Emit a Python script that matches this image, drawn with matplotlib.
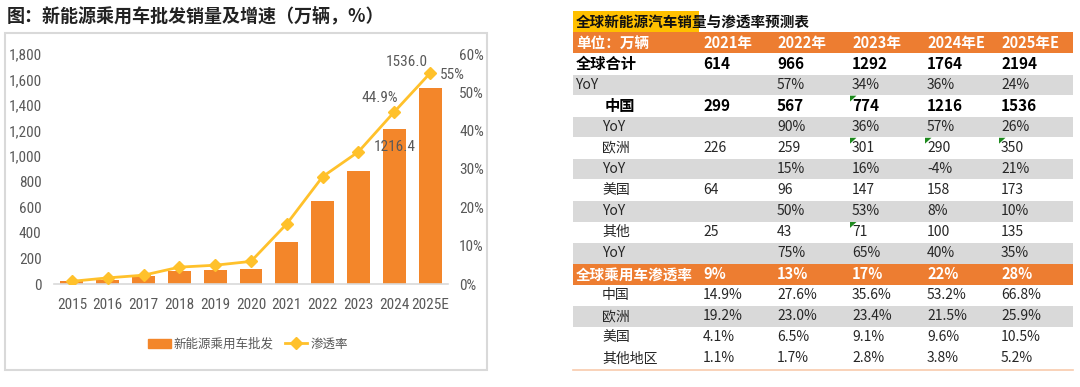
import matplotlib
matplotlib.use("Agg")
import matplotlib.pyplot as plt
import matplotlib.patches as mpatches
from matplotlib.lines import Line2D
from matplotlib.ticker import FuncFormatter

CJK = ["Noto Sans CJK SC", "DejaVu Sans"]
NARROW = ["Roboto Condensed", "Noto Sans CJK SC", "DejaVu Sans"]
plt.rcParams["font.family"] = CJK

# ---- left chart data ----
years = ["2015", "2016", "2017", "2018", "2019", "2020", "2021", "2022", "2023", "2024", "2025E"]
nev_wholesale = [21, 34, 60, 99, 106, 117, 327, 649, 883, 1216.4, 1536.0]
penetration = [0.7, 1.6, 2.3, 4.4, 4.9, 5.9, 15.7, 28.0, 34.5, 44.9, 55.0]

# ---- right table data ----
tbl_years = ["2021年", "2022年", "2023年", "2024年E", "2025年E"]
global_total = ["614", "966", "1292", "1764", "2194"]
global_yoy = ["", "57%", "34%", "36%", "24%"]
china_sales = ["299", "567", "774", "1216", "1536"]
china_yoy = ["", "90%", "36%", "57%", "26%"]
europe_sales = ["226", "259", "301", "290", "350"]
europe_yoy = ["", "15%", "16%", "-4%", "21%"]
us_sales = ["64", "96", "147", "158", "173"]
us_yoy = ["", "50%", "53%", "8%", "10%"]
other_sales = ["25", "43", "71", "100", "135"]
other_yoy = ["", "75%", "65%", "40%", "35%"]
pen_global = ["9%", "13%", "17%", "22%", "28%"]
pen_china = ["14.9%", "27.6%", "35.6%", "53.2%", "66.8%"]
pen_europe = ["19.2%", "23.0%", "23.4%", "21.5%", "25.9%"]
pen_us = ["4.1%", "6.5%", "9.1%", "9.6%", "10.5%"]
pen_other = ["1.1%", "1.7%", "2.8%", "3.8%", "5.2%"]

BAR_C = "#F3862A"
LINE_C = "#FFC12B"
ORANGE = "#ED7D31"
GRAY_ROW = "#D9D9D9"
TXT = "#595959"

W, H = 1080, 387
fig = plt.figure(figsize=(W / 100, H / 100), dpi=100)


def fx(px):
    return px / W


def fy(py):
    return 1 - py / H


# ---------------- left chart ----------------
fig.text(fx(7), fy(16), "图：新能源乘用车批发销量及增速（万辆，%）",
         fontsize=13, fontweight="bold", color="#222222", va="center", ha="left")
fig.patches.append(mpatches.Rectangle((fx(5), fy(370)), fx(482), 337 / H,
                                      transform=fig.transFigure, fill=False,
                                      edgecolor="#D9D9D9", linewidth=1.5))

ax = fig.add_axes([fx(54), fy(284), fx(394), (284 - 54) / H])
x = range(len(years))
ax.bar(x, nev_wholesale, width=0.64, color=BAR_C, label="新能源乘用车批发", zorder=2)
ax.set_xlim(-0.5, len(years) - 0.5)
ax.set_ylim(0, 1800)
ax.set_yticks(range(0, 1801, 200))
ax.yaxis.set_major_formatter(FuncFormatter(lambda v, p: f"{v:,.0f}"))
ax.set_xticks(list(x))
ax.set_xticklabels(years)
ax.tick_params(axis="both", length=0, colors=TXT, labelsize=11)
ax.tick_params(axis="y", pad=9)
ax.tick_params(axis="x", pad=10)
plt.setp(ax.get_xticklabels() + ax.get_yticklabels(), family=NARROW)
for s in ["top", "right", "left"]:
    ax.spines[s].set_visible(False)
ax.spines["bottom"].set_color("#D9D9D9")
ax.spines["bottom"].set_linewidth(1.2)

ax2 = ax.twinx()
ax2.plot(list(x), penetration, color=LINE_C, linewidth=2, marker="D", markersize=6,
         label="渗透率", zorder=3)
ax2.set_ylim(0, 60)
ax2.set_yticks(range(0, 61, 10))
ax2.yaxis.set_major_formatter(FuncFormatter(lambda v, p: f"{v:.0f}%"))
ax2.tick_params(axis="y", length=0, colors=TXT, labelsize=11, pad=8)
plt.setp(ax2.get_yticklabels(), family=NARROW)
for s in ["top", "right", "left", "bottom"]:
    ax2.spines[s].set_visible(False)

lab_kw = dict(textcoords="offset points", color=TXT, fontsize=11, family=NARROW)
ax2.annotate(f"{nev_wholesale[-1]:.1f}", (10, penetration[-1]), xytext=(-2, 3),
             ha="right", va="bottom", **lab_kw)
ax2.annotate(f"{penetration[-1]:.0f}%", (10, penetration[-1]), xytext=(7, -1),
             ha="left", va="center", **lab_kw)
ax2.annotate(f"{penetration[-2]:.1f}%", (9, penetration[-2]), xytext=(3, 5),
             ha="right", va="bottom", **lab_kw)
ax.annotate(f"{nev_wholesale[-2]:.1f}", (9, nev_wholesale[-2]), xytext=(0, -13),
            ha="center", va="center", **lab_kw)

handles = [mpatches.Patch(color=BAR_C, label="新能源乘用车批发"),
           Line2D([0], [0], color=LINE_C, lw=2, marker="D", markersize=6, label="渗透率")]
fig.legend(handles=handles, loc="center", bbox_to_anchor=(fx(248), fy(344)), ncol=2,
           frameon=False, fontsize=9, labelcolor=TXT, handlelength=1.8,
           handletextpad=0.25, columnspacing=0.9)

# ---------------- right table ----------------
rows = [
    ("单位：万辆", tbl_years, "header", 0.006),
    ("全球合计", global_total, "bold", 0.006),
    ("YoY", global_yoy, "gray", 0.004),
    ("中国", china_sales, "bold", 0.064),
    ("YoY", china_yoy, "gray", 0.058),
    ("欧洲", europe_sales, "normal", 0.058),
    ("YoY", europe_yoy, "gray", 0.058),
    ("美国", us_sales, "normal", 0.058),
    ("YoY", us_yoy, "gray", 0.058),
    ("其他", other_sales, "normal", 0.058),
    ("YoY", other_yoy, "gray", 0.058),
    ("全球乘用车渗透率", pen_global, "header", 0.006),
    ("中国", pen_china, "normal", 0.058),
    ("欧洲", pen_europe, "gray", 0.058),
    ("美国", pen_us, "normal", 0.058),
    ("其他地区", pen_other, "normal", 0.058),
]
col_x = [0.26, 0.408, 0.558, 0.708, 0.856]
comment_cells = [(3, 2), (5, 2), (5, 3), (5, 4), (9, 2)]

tax = fig.add_axes([fx(573), fy(369), fx(500), (369 - 11) / H])
tax.set_xlim(0, 1)
tax.set_ylim(len(rows), -1)
tax.axis("off")

tax.add_patch(mpatches.Rectangle((0, -1), 0.252, 0.98, color="#FFC000", lw=0))
tax.text(0.006, -0.5, "全球新能源汽车销量与渗透率预测表", fontsize=10.5,
         fontweight="bold", color="#111111", va="center", ha="left")

for i, (label, vals, style, lx) in enumerate(rows):
    if style == "header":
        tax.add_patch(mpatches.Rectangle((0, i), 1, 1, color=ORANGE, lw=0))
        color, weight, fs = "white", "bold", 10.5
    elif style == "bold":
        color, weight, fs = "#000000", "bold", 11
    else:
        if style == "gray":
            tax.add_patch(mpatches.Rectangle((0, i + 0.03), 1, 0.97, color=GRAY_ROW, lw=0))
        color, weight, fs = "#262626", "normal", 10
    tax.text(lx, i + 0.5, label, fontsize=fs, fontweight=weight, color=color,
             va="center", ha="left")
    for cx, v in zip(col_x, vals):
        tax.text(cx, i + 0.5, v, fontsize=fs, fontweight=weight, color=color,
                 va="center", ha="left")

for r, c in comment_cells:
    x0 = col_x[c] - 0.004
    tax.add_patch(mpatches.Polygon([(x0, r + 0.02), (x0 + 0.013, r + 0.02), (x0, r + 0.3)],
                                   closed=True, color="#1E8A1E", lw=0))

tax.plot([0, 1], [len(rows) + 0.05, len(rows) + 0.05], color="#F8CBAD", lw=1.2,
         clip_on=False)

fig.savefig("out.png", dpi=100)
